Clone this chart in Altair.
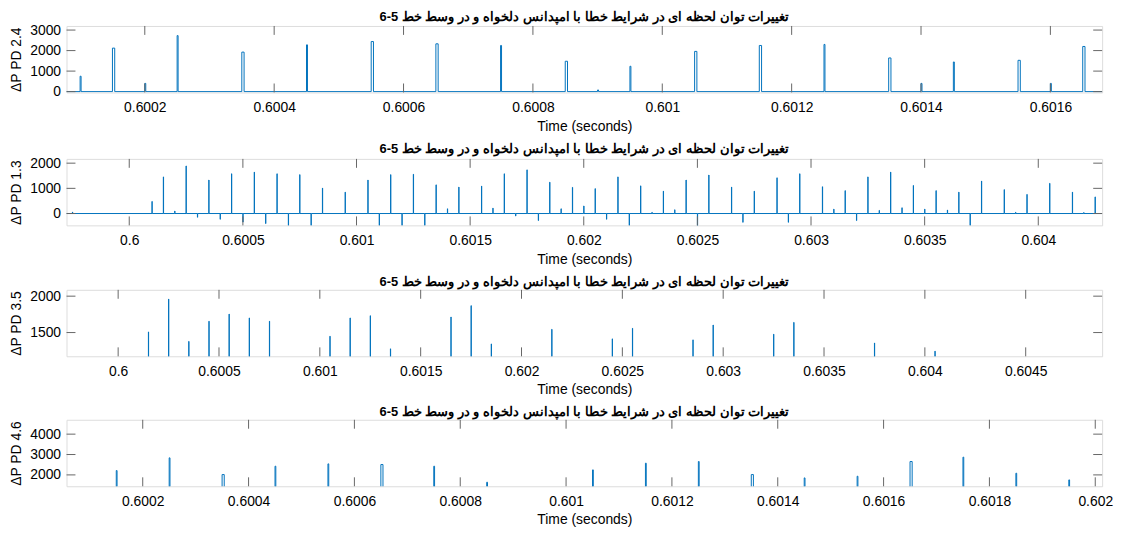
import altair as alt
import pandas as pd

TITLE = "تغییرات توان لحظه ای در شرایط خطا با امپدانس دلخواه و در وسط خط 5-6"
XLABEL = "Time (seconds)"
BLUE = "#0072BD"
FRAME = "#666666"

# ---------------- panel 1 : ΔP PD 2.4 ----------------
p1_ylabel = "ΔP PD 2.4"
p1_xdom = [0.600079, 0.60168]
p1_ydom = [-40, 3200]
p1_xticks = [0.6002, 0.6004, 0.6006, 0.6008, 0.601, 0.6012, 0.6014, 0.6016]
p1_yticks = [0, 1000, 2000, 3000]
p1_t = [0.60010, 0.60015, 0.60020, 0.60025, 0.60035, 0.60045, 0.60055, 0.60065,
        0.60075, 0.60085, 0.60090, 0.60095, 0.60105, 0.60115, 0.60125, 0.60135,
        0.60140, 0.60145, 0.60155, 0.60160, 0.60165]
p1_v = [750, 2120, 400, 2730, 1925, 2280, 2440, 2330,
        2250, 1480, 80, 1235, 1960, 2250, 2300, 1640,
        400, 1445, 1525, 400, 2200]
p1_w = [1.5e-6, 3.5e-6, 1.5e-6, 1.5e-6, 3.5e-6, 1.5e-6, 3.5e-6, 3.5e-6,
        1.5e-6, 3.5e-6, 1.5e-6, 1.5e-6, 3.5e-6, 3.5e-6, 1.5e-6, 3.5e-6,
        1.5e-6, 1.5e-6, 3.5e-6, 1.5e-6, 3.5e-6]
p1_base = 0

# ---------------- panel 2 : ΔP PD 1.3 ----------------
p2_ylabel = "ΔP PD 1.3"
p2_xdom = [0.599724, 0.604281]
p2_ydom = [-470, 2170]
p2_xticks = [0.6, 0.6005, 0.601, 0.6015, 0.602, 0.6025, 0.603, 0.6035, 0.604]
p2_yticks = [0, 1000, 2000]
p2_t = [0.59975, 0.60010, 0.60015, 0.60020, 0.60025, 0.60030, 0.60035, 0.60040,
        0.60045, 0.60050, 0.60055, 0.60060, 0.60065, 0.60070, 0.60075, 0.60080,
        0.60085, 0.60095, 0.60105, 0.60110, 0.60115, 0.60120, 0.60125, 0.60130,
        0.60135, 0.60140, 0.60145, 0.60155, 0.60160, 0.60165, 0.60170, 0.60175,
        0.60180, 0.60185, 0.60190, 0.60195, 0.60200, 0.60205, 0.60210, 0.60215,
        0.60220, 0.60225, 0.60230, 0.60235, 0.60240, 0.60245, 0.60250, 0.60255,
        0.60265, 0.60270, 0.60275, 0.60285, 0.60290, 0.60295, 0.60305, 0.60310,
        0.60315, 0.60320, 0.60325, 0.60330, 0.60335, 0.60340, 0.60345, 0.60350,
        0.60355, 0.60360, 0.60365, 0.60370, 0.60375, 0.60385, 0.60390, 0.60395,
        0.60405, 0.60415, 0.60420, 0.60425]
p2_v = [60, 480, 1455, 100, 1890, -150, 1330, -230,
        1580, -340, 1645, -400, 1580, -600, 1545, -600,
        1010, 850, 1330, -600, 1545, -600, 1560, -600,
        1140, 190, 1050, 1090, 215, 1580, -100, 1735,
        -280, 1245, 190, 1040, 300, 990, -230, 1455,
        -600, 1100, 50, 890, 150, 1330, -600, 1530,
        1050, -350, 890, 1420, -350, 1580, 1065, 175,
        910, -280, 1455, 125, 1645, 230, 1115, 175,
        910, 140, 850, -600, 1290, 950, 50, 760,
        1200, 850, 40, 660]
p2_base = 0

# ---------------- panel 3 : ΔP PD 3.5 ----------------
p3_ylabel = "ΔP PD 3.5"
p3_xdom = [0.599744, 0.604879]
p3_ydom = [1174, 2087]
p3_xticks = [0.6, 0.6005, 0.601, 0.6015, 0.602, 0.6025, 0.603, 0.6035, 0.604, 0.6045]
p3_yticks = [1500, 2000]
p3_t = [0.60015, 0.60025, 0.60035, 0.60045, 0.60055, 0.60065, 0.60075, 0.60105,
        0.60115, 0.60125, 0.60135, 0.60165, 0.60175, 0.60185, 0.60215, 0.60245,
        0.60255, 0.60285, 0.60295, 0.60325, 0.60335, 0.60375, 0.60405]
p3_v = [1509, 1960, 1379, 1656, 1754, 1701, 1656, 1450,
        1701, 1732, 1277, 1714, 1870, 1344, 1545, 1414,
        1559, 1400, 1604, 1478, 1640, 1357, 1245]
p3_base = 0

# ---------------- panel 4 : ΔP PD 4.6 ----------------
p4_ylabel = "ΔP PD 4.6"
p4_xdom = [0.600056, 0.602013]
p4_ydom = [1443, 4705]
p4_xticks = [0.6002, 0.6004, 0.6006, 0.6008, 0.601, 0.6012, 0.6014, 0.6016, 0.6018, 0.602]
p4_yticks = [2000, 3000, 4000]
p4_t = [0.60015, 0.60025, 0.60035, 0.60045, 0.60055, 0.60065, 0.60075, 0.60085,
        0.60105, 0.60115, 0.60125, 0.60135, 0.60145, 0.60155, 0.60165, 0.60175,
        0.60185, 0.60195]
p4_v = [2213, 2836, 2016, 2426, 2541, 2508, 2426, 1639,
        2246, 2574, 2656, 2016, 1852, 1934, 2656, 2869,
        2082, 1754]
p4_w = [1.5e-6, 1.5e-6, 4e-6, 1.5e-6, 1.5e-6, 4e-6, 1.5e-6, 1.5e-6,
        1.5e-6, 1.5e-6, 1.5e-6, 4e-6, 1.5e-6, 1.5e-6, 4e-6, 1.5e-6,
        1.5e-6, 1.5e-6]
p4_base = 0


def signal(times, vals, widths, base, xdom):
    ts, vs = [xdom[0]], [base]
    for t, v, w in sorted(zip(times, vals, widths)):
        ts += [t, t, t + w, t + w]
        vs += [base, v, v, base]
    ts.append(xdom[1])
    vs.append(base)
    return pd.DataFrame({"t": ts, "v": vs, "i": list(range(len(ts)))})


W, H, TL = 1044, 67, 9


def panel(df, xdom, ydom, xticks, yticks, ylabel, toff=0):
    xsc = alt.Scale(domain=xdom, nice=False, zero=False)
    ysc = alt.Scale(domain=ydom, nice=False, zero=False)
    xax = alt.Axis(
        values=xticks, format="~g", ticks=False, domain=False, grid=False,
        labelFontSize=14, labelPadding=8, labelFlush=False, labelOverlap=False,
        title=XLABEL, titleFontSize=14, titleFontWeight="normal", titlePadding=5)
    yax = alt.Axis(
        values=yticks, format="d", ticks=False, domain=False, grid=False,
        labelFontSize=14, labelPadding=6, labelFlush=False, labelOverlap=False,
        title=ylabel, titleFontSize=14, titleFontWeight="normal", titlePadding=6)
    xs = alt.X("t:Q", scale=xsc, axis=xax, title=XLABEL)
    ys = alt.Y("v:Q", scale=ysc, axis=yax, title=ylabel)
    line = alt.Chart(df).mark_line(color=BLUE, strokeWidth=1, clip=True).encode(
        x=xs, y=ys, order="i:Q")
    xt = pd.DataFrame({"t": xticks})
    yt = pd.DataFrame({"v": yticks})
    top = alt.Chart(xt).mark_rule(color=FRAME).encode(x=xs, y=alt.value(0), y2=alt.value(TL))
    bot = alt.Chart(xt).mark_rule(color=FRAME).encode(x=xs, y=alt.value(H - TL), y2=alt.value(H))
    left = alt.Chart(yt).mark_rule(color=FRAME).encode(y=ys, x=alt.value(0), x2=alt.value(TL))
    right = alt.Chart(yt).mark_rule(color=FRAME).encode(y=ys, x=alt.value(W - TL), x2=alt.value(W))
    return alt.layer(line, top, bot, left, right).properties(
        width=W, height=H, title=alt.TitleParams(TITLE, offset=toff))


c1 = panel(signal(p1_t, p1_v, p1_w, p1_base, p1_xdom), p1_xdom, p1_ydom, p1_xticks, p1_yticks, p1_ylabel, -1)
c2 = panel(signal(p2_t, p2_v, [1e-6] * len(p2_t), p2_base, p2_xdom), p2_xdom, p2_ydom, p2_xticks, p2_yticks, p2_ylabel, 0)
c3 = panel(signal(p3_t, p3_v, [1e-6] * len(p3_t), p3_base, p3_xdom), p3_xdom, p3_ydom, p3_xticks, p3_yticks, p3_ylabel, 0)
c4 = panel(signal(p4_t, p4_v, p4_w, p4_base, p4_xdom), p4_xdom, p4_ydom, p4_xticks, p4_yticks, p4_ylabel, 0)

chart = alt.vconcat(c1, c2, c3, c4, spacing=8).properties(
    padding={"left": 1, "top": 0, "right": 5, "bottom": 0}
).configure_view(stroke=FRAME, strokeWidth=1).configure_axis(
    labelFont="Liberation Sans", titleFont="Liberation Sans",
    labelColor="#262626", titleColor="#262626",
).configure_title(
    font="DejaVu Sans", fontSize=12, fontWeight="bold", color="black",
    anchor="middle",
).configure(background="white")

chart.save("out.html", embed_options={"renderer": "svg", "actions": False})
